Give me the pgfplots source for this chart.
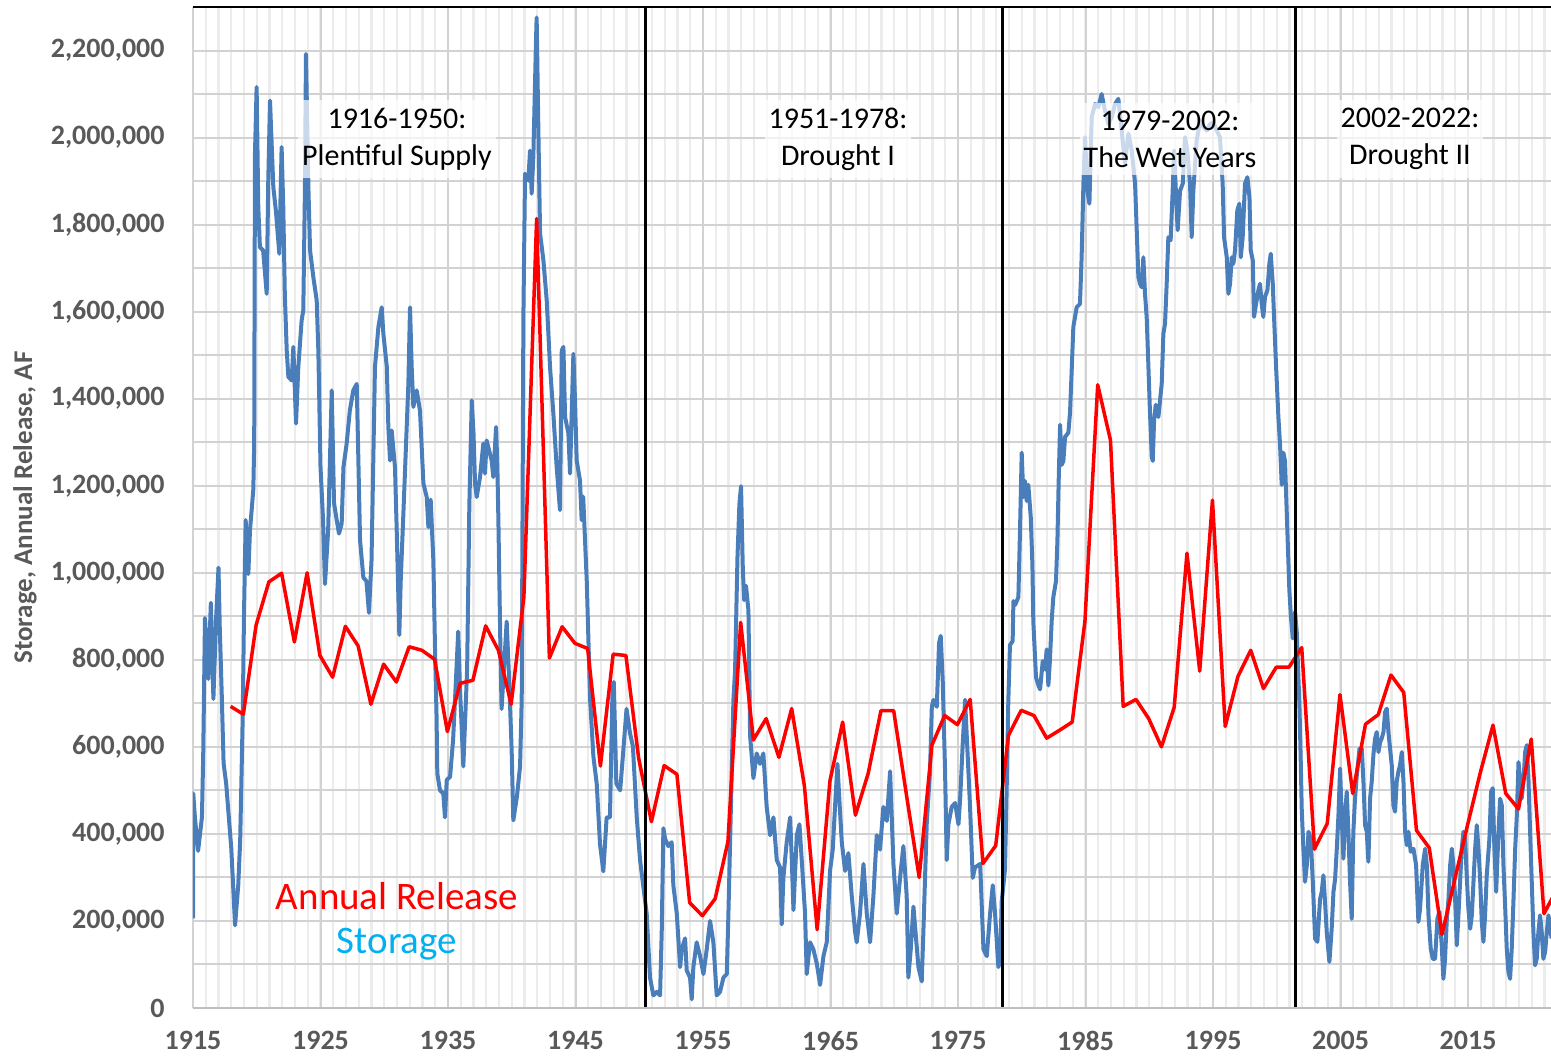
\documentclass[border=0pt]{standalone}
\usepackage{pgfplots}
\pgfplotsset{compat=1.18}
\usepackage{fontspec}
\setmainfont{Carlito}
\definecolor{blueline}{RGB}{74,126,187}
\definecolor{tickgray}{RGB}{89,89,89}
\definecolor{stcyan}{RGB}{0,176,240}
\definecolor{gridmaj}{RGB}{210,210,210}
\definecolor{gridmin}{RGB}{236,236,236}
\begin{document}
\begin{tikzpicture}
\path[use as bounding box] (-96.5bp,-25.5bp) rectangle (679bp,504bp);
\begin{axis}[
  at={(0,0)}, anchor=south west,
  scale only axis, width=679bp, height=500.5bp,
  xmin=1915, xmax=2021.5, ymin=0, ymax=2300000,
  axis line style={draw=none},
  major tick length=0pt, minor tick length=0pt,
  xtick={1915,1925,1935,1945,1955,1965,1975,1985,1995,2005,2015},
  xticklabels={1915,1925,1935,1945,1955,1965,1975,1985,1995,2005,2015},
  minor xtick={1916,1917,...,2021},
  ytick={0,100000,...,2200000},
  yticklabels={{0},{},{200,000},{},{400,000},{},{600,000},{},{800,000},{},{1,000,000},{},{1,200,000},{},{1,400,000},{},{1,600,000},{},{1,800,000},{},{2,000,000},{},{2,200,000}},
  xmajorgrids, xminorgrids, ymajorgrids,
  major grid style={draw=gridmaj, line width=1bp},
  minor grid style={draw=gridmin, line width=1.2bp},
  tick label style={font=\fontsize{14bp}{16bp}\selectfont\bfseries, text=tickgray},
  xticklabel style={anchor=north, inner sep=0pt, yshift=-11.5bp},
  yticklabel style={anchor=east, inner sep=0pt, xshift=-14bp},
]
\addplot[blueline, line width=2bp, line join=round] coordinates {
(1915.00,206000)(1915.02,493000)(1915.15,438000)(1915.40,361000)(1915.70,438000)(1915.80,578000)(1915.94,896000)
(1916.20,756000)(1916.40,931000)(1916.60,710000)(1916.80,888000)(1917.00,1012000)(1917.10,873000)(1917.25,725000)
(1917.40,562000)(1917.60,516000)(1918.00,368000)(1918.30,190000)(1918.55,283000)(1918.70,384000)(1918.90,671000)
(1919.00,904000)(1919.13,1121000)(1919.34,997000)(1919.47,1098000)(1919.73,1191000)(1919.80,1297000)(1919.86,1963000)
(1919.99,2116000)(1920.12,1840000)(1920.25,1748000)(1920.50,1741000)(1920.78,1641000)(1920.90,1897000)(1921.04,2085000)
(1921.17,1985000)(1921.30,1886000)(1921.50,1832000)(1921.77,1733000)(1921.95,1978000)(1922.08,1840000)(1922.20,1641000)
(1922.35,1511000)(1922.48,1450000)(1922.74,1442000)(1922.87,1519000)(1923.08,1343000)(1923.26,1473000)(1923.52,1580000)
(1923.65,1603000)(1923.78,1886000)(1923.86,2192000)(1924.05,1886000)(1924.18,1741000)(1924.44,1679000)(1924.70,1626000)
(1924.83,1511000)(1925.00,1243000)(1925.20,1121000)(1925.35,974000)(1925.60,1098000)(1925.88,1419000)(1926.06,1160000)
(1926.27,1121000)(1926.45,1090000)(1926.66,1113000)(1926.80,1243000)(1927.05,1297000)(1927.30,1373000)(1927.57,1419000)
(1927.84,1434000)(1927.97,1258000)(1928.10,1075000)(1928.36,989000)(1928.60,981000)(1928.80,908000)(1929.00,1028000)
(1929.27,1473000)(1929.54,1565000)(1929.80,1610000)(1929.93,1549000)(1930.20,1473000)(1930.32,1335000)(1930.45,1258000)
(1930.58,1327000)(1930.84,1243000)(1930.97,1105000)(1931.18,857000)(1931.29,981000)(1931.50,1137000)(1931.89,1434000)
(1932.02,1610000)(1932.15,1473000)(1932.28,1381000)(1932.54,1419000)(1932.80,1373000)(1933.07,1205000)(1933.33,1174000)
(1933.46,1105000)(1933.64,1168000)(1933.85,1028000)(1933.98,826000)(1934.10,671000)(1934.16,539000)(1934.37,500000)
(1934.63,493000)(1934.76,438000)(1934.90,524000)(1935.16,531000)(1935.40,617000)(1935.80,865000)(1935.94,733000)
(1936.20,555000)(1936.50,780000)(1936.67,1152000)(1936.86,1396000)(1937.00,1320000)(1937.12,1205000)(1937.25,1174000)
(1937.51,1220000)(1937.77,1297000)(1937.90,1228000)(1938.03,1304000)(1938.42,1258000)(1938.55,1220000)(1938.77,1335000)
(1938.87,1243000)(1938.95,1121000)(1939.10,842000)(1939.20,687000)(1939.60,888000)(1939.80,749000)(1939.99,593000)
(1940.12,431000)(1940.40,485000)(1940.65,555000)(1940.78,710000)(1940.91,1587000)(1941.04,1917000)(1941.30,1901000)
(1941.43,1970000)(1941.56,1871000)(1941.69,1955000)(1941.90,2223000)(1941.95,2276000)(1942.09,2008000)(1942.22,1779000)
(1942.48,1718000)(1942.74,1626000)(1943.00,1473000)(1943.26,1366000)(1943.52,1243000)(1943.78,1144000)(1943.92,1511000)
(1944.05,1519000)(1944.18,1358000)(1944.44,1320000)(1944.57,1228000)(1944.83,1503000)(1944.96,1396000)(1945.09,1258000)
(1945.35,1212000)(1945.48,1121000)(1945.60,1175000)(1945.88,981000)(1946.14,710000)(1946.40,578000)(1946.66,516000)
(1946.92,376000)(1947.18,314000)(1947.44,438000)(1947.70,438000)(1947.90,733000)(1948.00,749000)(1948.20,516000)
(1948.50,500000)(1948.75,593000)(1949.00,687000)(1949.27,632000)(1949.50,601000)(1949.80,438000)(1950.06,340000)
(1950.30,283000)(1950.58,217000)(1950.84,70000)(1951.10,29000)(1951.37,37000)(1951.63,29000)(1951.76,176000)
(1951.89,413000)(1952.02,389000)(1952.28,372000)(1952.54,381000)(1952.67,282000)(1952.94,217000)(1953.20,94000)
(1953.33,135000)(1953.59,160000)(1953.72,86000)(1953.98,70000)(1954.11,20000)(1954.24,94000)(1954.50,151000)
(1954.77,119000)(1955.03,78000)(1955.29,135000)(1955.55,200000)(1955.81,151000)(1956.07,29000)(1956.33,37000)
(1956.60,70000)(1956.86,78000)(1956.99,217000)(1957.12,381000)(1957.25,544000)(1957.38,708000)(1957.51,774000)
(1957.70,1036000)(1957.85,1158000)(1957.98,1199000)(1958.11,1019000)(1958.22,937000)(1958.37,970000)(1958.56,913000)
(1958.69,626000)(1958.95,528000)(1959.21,585000)(1959.47,561000)(1959.73,585000)(1959.99,462000)(1960.26,397000)
(1960.52,438000)(1960.78,340000)(1961.04,323000)(1961.17,192000)(1961.30,299000)(1961.56,381000)(1961.83,438000)
(1961.96,340000)(1962.09,225000)(1962.35,397000)(1962.56,422000)(1962.74,340000)(1963.00,217000)(1963.13,78000)
(1963.39,151000)(1963.65,135000)(1963.92,102000)(1964.18,53000)(1964.44,119000)(1964.70,151000)(1964.96,315000)
(1965.17,364000)(1965.35,462000)(1965.54,561000)(1965.69,479000)(1965.88,381000)(1966.14,315000)(1966.40,356000)
(1966.66,258000)(1966.92,176000)(1967.05,151000)(1967.31,217000)(1967.58,331000)(1967.84,217000)(1968.10,151000)
(1968.36,258000)(1968.62,397000)(1968.88,364000)(1969.14,462000)(1969.41,430000)(1969.67,544000)(1969.93,331000)
(1970.19,217000)(1970.45,299000)(1970.71,372000)(1970.97,258000)(1971.10,70000)(1971.29,135000)(1971.50,233000)
(1971.89,94000)(1972.15,61000)(1972.28,176000)(1972.54,422000)(1972.80,544000)(1972.94,692000)(1973.07,708000)
(1973.33,692000)(1973.51,839000)(1973.64,855000)(1973.80,749000)(1973.98,544000)(1974.11,340000)(1974.24,422000)
(1974.50,462000)(1974.77,471000)(1975.03,422000)(1975.16,479000)(1975.37,610000)(1975.55,708000)(1975.81,544000)
(1975.94,462000)(1976.15,299000)(1976.33,323000)(1976.73,331000)(1976.99,135000)(1977.25,119000)(1977.51,217000)
(1977.72,282000)(1977.90,217000)(1978.16,94000)(1978.30,110000)(1978.42,244000)(1978.68,318000)(1978.81,502000)
(1978.94,705000)(1979.07,834000)(1979.28,843000)(1979.34,935000)(1979.47,926000)(1979.73,944000)(1979.86,1101000)
(1979.99,1276000)(1980.12,1174000)(1980.25,1211000)(1980.38,1165000)(1980.51,1202000)(1980.70,1128000)(1980.83,1018000)
(1980.90,889000)(1981.11,760000)(1981.30,741000)(1981.43,732000)(1981.64,797000)(1981.82,778000)(1981.95,824000)
(1982.08,741000)(1982.20,797000)(1982.34,889000)(1982.47,944000)(1982.68,981000)(1982.79,1073000)(1982.89,1211000)
(1983.00,1340000)(1983.13,1248000)(1983.26,1257000)(1983.39,1312000)(1983.65,1322000)(1983.78,1368000)(1983.91,1465000)
(1984.04,1565000)(1984.30,1610000)(1984.56,1618000)(1984.69,1725000)(1984.83,1894000)(1984.96,2001000)(1985.14,1878000)
(1985.30,1848000)(1985.48,2047000)(1985.74,2077000)(1986.00,2070000)(1986.26,2100000)(1986.52,2062000)(1986.79,2031000)
(1987.05,2047000)(1987.31,2077000)(1987.57,2089000)(1987.83,2016000)(1988.09,1940000)(1988.36,2009000)(1988.62,1970000)
(1988.88,1894000)(1989.01,1787000)(1989.14,1679000)(1989.27,1664000)(1989.40,1656000)(1989.53,1725000)(1989.66,1641000)
(1989.79,1588000)(1989.92,1480000)(1990.05,1368000)(1990.19,1266000)(1990.27,1257000)(1990.37,1349000)(1990.50,1386000)
(1990.71,1358000)(1990.97,1434000)(1991.10,1549000)(1991.23,1572000)(1991.36,1664000)(1991.49,1771000)(1991.67,1764000)
(1991.83,1878000)(1991.94,1970000)(1992.09,1871000)(1992.22,1787000)(1992.41,1878000)(1992.62,1894000)(1992.80,2001000)
(1992.98,1970000)(1993.19,1894000)(1993.32,1771000)(1993.45,1878000)(1993.71,1993000)(1993.98,2039000)(1994.24,2024000)
(1994.50,2016000)(1994.76,2031000)(1995.02,2035000)(1995.28,2016000)(1995.54,2001000)(1995.75,1894000)(1995.86,1771000)
(1996.07,1725000)(1996.20,1641000)(1996.33,1664000)(1996.46,1725000)(1996.59,1710000)(1996.72,1741000)(1996.90,1833000)
(1997.06,1848000)(1997.17,1725000)(1997.32,1771000)(1997.50,1894000)(1997.69,1909000)(1997.85,1863000)(1997.95,1741000)
(1998.11,1718000)(1998.21,1588000)(1998.37,1618000)(1998.55,1649000)(1998.68,1664000)(1998.81,1618000)(1998.94,1588000)
(1999.07,1634000)(1999.26,1649000)(1999.41,1710000)(1999.52,1733000)(1999.68,1664000)(1999.78,1588000)(1999.94,1473000)
(2000.12,1358000)(2000.25,1294000)(2000.38,1202000)(2000.51,1276000)(2000.64,1257000)(2000.83,1091000)(2000.98,960000)
(2001.10,900000)(2001.25,849000)(2001.43,910000)(2001.56,864000)(2001.77,696000)(2001.87,573000)(2001.95,458000)
(2002.08,366000)(2002.21,290000)(2002.35,328000)(2002.48,405000)(2002.66,389000)(2002.82,290000)(2003.00,159000)
(2003.18,152000)(2003.39,251000)(2003.52,267000)(2003.65,305000)(2003.78,244000)(2003.91,175000)(2004.12,106000)
(2004.30,182000)(2004.44,267000)(2004.57,297000)(2004.70,366000)(2004.83,443000)(2004.96,550000)(2005.09,435000)
(2005.22,343000)(2005.35,443000)(2005.48,497000)(2005.61,405000)(2005.74,290000)(2005.87,205000)(2006.00,405000)
(2006.13,481000)(2006.27,535000)(2006.48,596000)(2006.66,596000)(2006.79,520000)(2006.92,420000)(2007.05,405000)
(2007.18,336000)(2007.31,481000)(2007.44,520000)(2007.57,581000)(2007.70,619000)(2007.83,634000)(2007.97,588000)
(2008.10,611000)(2008.22,619000)(2008.36,634000)(2008.49,680000)(2008.62,688000)(2008.75,634000)(2008.88,596000)
(2009.01,558000)(2009.14,466000)(2009.27,451000)(2009.40,520000)(2009.53,543000)(2009.66,558000)(2009.80,588000)
(2009.93,520000)(2010.06,405000)(2010.19,374000)(2010.32,405000)(2010.50,359000)(2010.71,366000)(2010.92,328000)
(2011.10,198000)(2011.23,228000)(2011.44,328000)(2011.63,366000)(2011.76,328000)(2011.89,213000)(2012.07,136000)
(2012.23,113000)(2012.41,113000)(2012.59,205000)(2012.75,221000)(2012.93,144000)(2013.06,67000)(2013.19,113000)
(2013.33,205000)(2013.46,251000)(2013.59,328000)(2013.72,366000)(2013.85,328000)(2013.98,251000)(2014.11,144000)
(2014.24,213000)(2014.37,290000)(2014.50,366000)(2014.63,405000)(2014.76,389000)(2014.89,305000)(2015.02,228000)
(2015.16,182000)(2015.29,213000)(2015.42,290000)(2015.55,366000)(2015.68,420000)(2015.81,366000)(2015.94,297000)
(2016.07,198000)(2016.20,152000)(2016.33,213000)(2016.46,305000)(2016.67,389000)(2016.80,497000)(2016.93,505000)
(2017.06,366000)(2017.20,267000)(2017.38,405000)(2017.51,481000)(2017.64,466000)(2017.77,328000)(2017.90,236000)
(2018.03,136000)(2018.16,83000)(2018.29,67000)(2018.42,136000)(2018.56,251000)(2018.69,366000)(2018.82,443000)
(2018.95,565000)(2019.08,520000)(2019.20,481000)(2019.34,520000)(2019.47,588000)(2019.60,604000)(2019.73,527000)
(2019.86,405000)(2019.99,290000)(2020.12,175000)(2020.25,98000)(2020.38,113000)(2020.51,175000)(2020.64,213000)
(2020.77,175000)(2020.90,113000)(2021.04,129000)(2021.17,175000)(2021.30,213000)(2021.43,182000)(2021.55,160000)
};
\addplot[red, line width=1.75bp, line join=round] coordinates {
(1917.95,693000)(1918.95,675000)(1919.95,880000)(1920.95,979000)(1921.95,999000)(1922.95,841000)(1923.95,1000000)
(1924.95,810000)(1925.95,760000)(1926.95,877000)(1927.95,832000)(1928.95,698000)(1929.95,790000)(1930.95,749000)
(1931.95,830000)(1932.95,822000)(1933.95,801000)(1934.95,635000)(1935.95,746000)(1936.95,753000)(1937.95,878000)
(1938.95,822000)(1939.95,698000)(1940.95,945000)(1941.95,1814000)(1942.95,804000)(1943.95,876000)(1944.95,838000)
(1945.95,826000)(1946.95,556000)(1947.95,813000)(1948.95,810000)(1949.95,574000)(1950.95,428000)(1951.95,557000)
(1952.95,537000)(1953.95,242000)(1954.95,212000)(1955.95,251000)(1956.95,382000)(1957.95,886000)(1958.95,616000)
(1959.95,665000)(1960.95,576000)(1961.95,688000)(1962.95,510000)(1963.95,180000)(1964.95,522000)(1965.95,657000)
(1966.95,443000)(1967.95,539000)(1968.95,683000)(1969.95,683000)(1970.95,490000)(1971.95,300000)(1972.95,604000)
(1973.95,672000)(1974.95,651000)(1975.95,709000)(1976.95,332000)(1977.95,373000)(1978.95,626000)(1979.95,684000)
(1980.95,672000)(1981.95,620000)(1982.95,638000)(1983.95,657000)(1984.95,889000)(1985.95,1432000)(1986.95,1305000)
(1987.95,693000)(1988.95,709000)(1989.95,665000)(1990.95,600000)(1991.95,691000)(1992.95,1045000)(1993.95,774000)
(1994.95,1167000)(1995.95,647000)(1996.95,762000)(1997.95,822000)(1998.95,734000)(1999.95,783000)(2000.95,783000)
(2001.95,828000)(2002.95,365000)(2003.95,424000)(2004.95,720000)(2005.95,493000)(2006.95,652000)(2007.95,674000)
(2008.95,765000)(2009.95,725000)(2010.95,408000)(2011.95,368000)(2012.95,169000)(2013.95,295000)(2014.95,420000)
(2015.95,540000)(2016.95,650000)(2017.95,493000)(2018.95,457000)(2019.95,618000)(2020.95,217000)(2021.95,272000)
};
\draw[black, line width=1.5bp] (axis cs:1950.45,0) -- (axis cs:1950.45,2300000);
\draw[black, line width=1.5bp] (axis cs:1978.45,0) -- (axis cs:1978.45,2300000);
\draw[black, line width=1.5bp] (axis cs:2001.43,0) -- (axis cs:2001.43,2300000);
\end{axis}
\draw[color={rgb,255:red,191;green,191;blue,191}, line width=1bp] (0,0) -- (679bp,0);
\draw[black, line width=1bp] (0,500.5bp) -- (679bp,500.5bp);
\begin{scope}[every node/.style={fill=white, fill opacity=0.7, text opacity=1, align=center, inner xsep=2bp, inner ysep=4bp, font=\fontsize{15bp}{18.5bp}\selectfont}]
\node at (102bp,434.5bp) {1916-1950:\\Plentiful Supply};
\node at (322.5bp,434.5bp) {1951-1978:\\Drought I};
\node at (488.5bp,434.5bp) {1979-2002:\\The Wet Years};
\node at (608.5bp,434.5bp) {2002-2022:\\Drought II};
\end{scope}
\node[text=red, font=\fontsize{19.5bp}{22bp}\selectfont] at (102bp,56bp) {Annual Release};
\node[text=stcyan, font=\fontsize{19.5bp}{22bp}\selectfont] at (102bp,32bp) {Storage};
\node[rotate=90, text=tickgray, font=\fontsize{13.5bp}{16bp}\selectfont\bfseries] at (-84bp,250.25bp) {Storage, Annual Release, AF};
\end{tikzpicture}
\end{document}
